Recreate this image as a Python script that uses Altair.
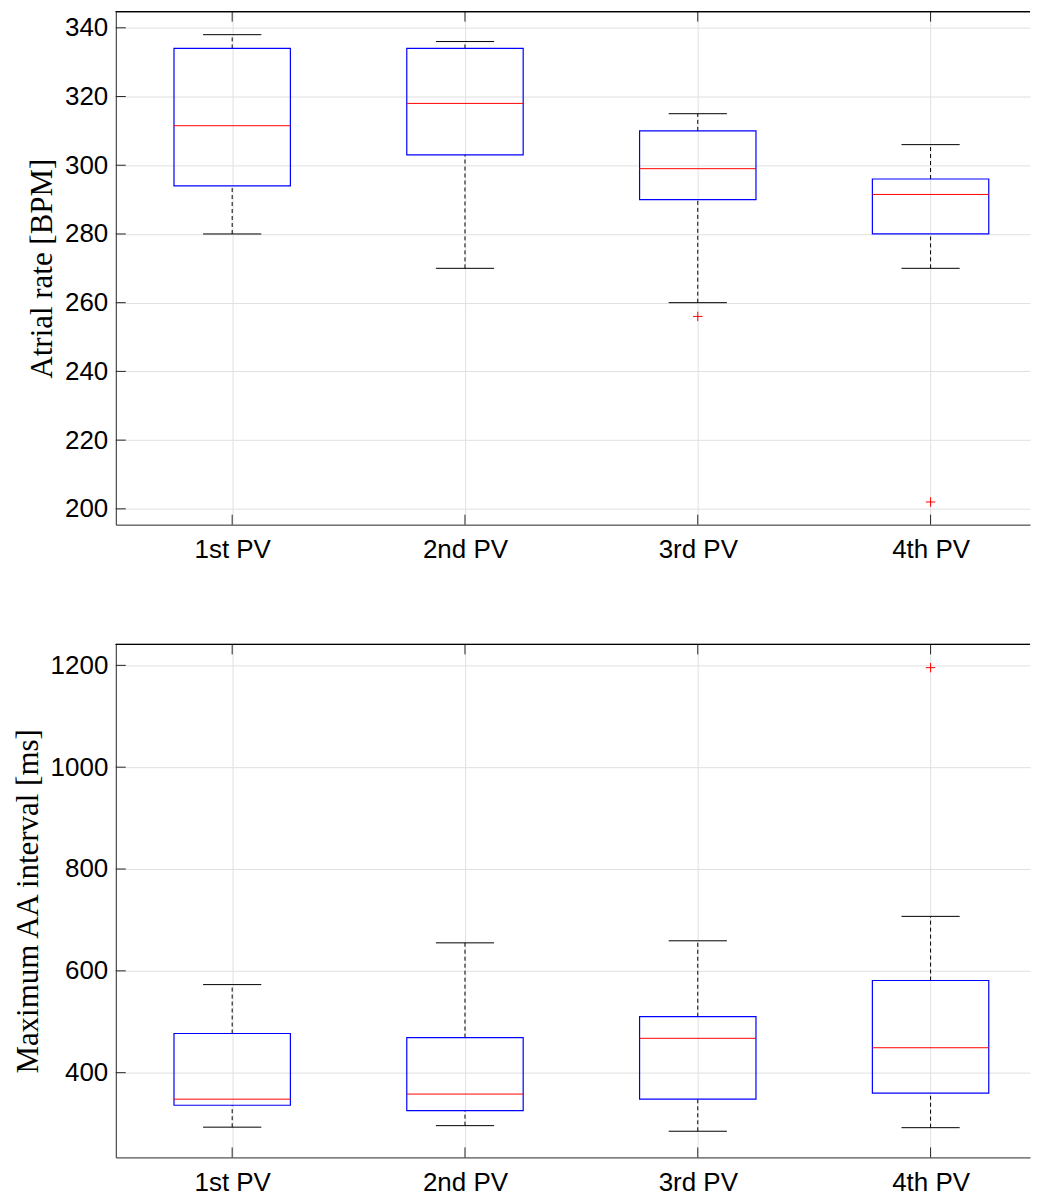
import altair as alt
import pandas as pd

categories = ["1st PV", "2nd PV", "3rd PV", "4th PV"]
positions = [1, 2, 3, 4]

rate_lower = [280, 270, 260, 270]
rate_q1 = [294, 303, 290, 280]
rate_median = [311.5, 318, 299, 291.5]
rate_q3 = [334, 334, 310, 296]
rate_upper = [338, 336, 315, 306]
rate_out_pos = [3, 4]
rate_out_val = [256, 202]
rate_ticks = [200, 220, 240, 260, 280, 300, 320, 340]
rate_domain = [195.4, 344.7]

aa_lower = [293, 296, 285, 292]
aa_q1 = [336, 325.5, 348, 360]
aa_median = [348, 358, 467.5, 449]
aa_q3 = [477, 469, 510, 581]
aa_upper = [573, 655, 659, 707]
aa_out_pos = [4]
aa_out_val = [1195.5]
aa_ticks = [400, 600, 800, 1000, 1200]
aa_domain = [233.6, 1241.1]

STEP = 233.25           # pixels per category
W = 916                 # visible plot width (right part is cut off, as in the original)
H = 514
X_DOMAIN = [0.5, 0.5 + W / STEP]
BOX_HALF = 0.25
CAP_HALF = 0.125
TICK_LEN = 10
AXC = "#262626"
PLUS = "M-1,0L1,0M0,-1L0,1"

label_expr = "[" + ",".join("'%s'" % c for c in categories) + "][datum.value - 1]"


def panel(lower, q1, med, q3, upper, out_pos, out_val, ticks, domain, title):
    df = pd.DataFrame(dict(pos=positions, lower=lower, q1=q1, med=med, q3=q3, upper=upper))
    odf = pd.DataFrame(dict(pos=out_pos, val=out_val))
    tdf = pd.DataFrame(dict(t=ticks))
    cdf = pd.DataFrame(dict(pos=positions))

    xscale = alt.Scale(domain=X_DOMAIN, nice=False, zero=False)
    yscale = alt.Scale(domain=domain, nice=False, zero=False)
    xaxis = alt.Axis(title=None, values=positions, labelExpr=label_expr, grid=True,
                     ticks=False, tickSize=0, labelPadding=12, labelAngle=0)
    yaxis = alt.Axis(title=title, values=ticks, format="d", grid=True, ticks=False, tickSize=0,
                     labelPadding=8, titlePadding=6)

    def X(f):
        return alt.X(f + ":Q", scale=xscale, axis=xaxis)

    def Y(f):
        return alt.Y(f + ":Q", scale=yscale, axis=yaxis)

    base = alt.Chart(df).transform_calculate(
        bx0="datum.pos - %f" % BOX_HALF, bx1="datum.pos + %f" % BOX_HALF,
        cx0="datum.pos - %f" % CAP_HALF, cx1="datum.pos + %f" % CAP_HALF)

    wh_up = base.mark_rule(color="black", strokeWidth=1, strokeDash=[4, 3]).encode(
        x=X("pos"), y=Y("q3"), y2="upper:Q")
    wh_lo = base.mark_rule(color="black", strokeWidth=1, strokeDash=[4, 3]).encode(
        x=X("pos"), y=Y("lower"), y2="q1:Q")
    cap_up = base.mark_rule(color="black", strokeWidth=1).encode(
        x=X("cx0"), x2="cx1:Q", y=Y("upper"))
    cap_lo = base.mark_rule(color="black", strokeWidth=1).encode(
        x=X("cx0"), x2="cx1:Q", y=Y("lower"))
    box = base.mark_rect(fillOpacity=0, stroke="#0000ff", strokeWidth=1.2).encode(
        x=X("bx0"), x2="bx1:Q", y=Y("q1"), y2="q3:Q")
    medl = base.mark_rule(color="#ff0000", strokeWidth=1).encode(
        x=X("bx0"), x2="bx1:Q", y=Y("med"))
    outl = alt.Chart(odf).mark_point(shape=PLUS, size=90, filled=False, color="#ff0000",
                                     strokeWidth=1, opacity=1).encode(x=X("pos"), y=Y("val"))
    ytk = alt.Chart(tdf).mark_rule(color=AXC, strokeWidth=1).encode(
        y=Y("t"), x=alt.value(0), x2=alt.value(TICK_LEN))
    xtk_top = alt.Chart(cdf).mark_rule(color=AXC, strokeWidth=1).encode(
        x=X("pos"), y=alt.value(0), y2=alt.value(TICK_LEN))
    xtk_bot = alt.Chart(cdf).mark_rule(color=AXC, strokeWidth=1).encode(
        x=X("pos"), y=alt.value(H), y2=alt.value(H - TICK_LEN))
    border = alt.Chart(cdf).mark_rule(color="black", strokeWidth=1).encode(
        x=alt.value(0), x2=alt.value(W), y=alt.value(0))

    return alt.layer(wh_up, wh_lo, cap_up, cap_lo, box, medl, outl, ytk, xtk_top, xtk_bot,
                     border).properties(width=W, height=H)


top = panel(rate_lower, rate_q1, rate_median, rate_q3, rate_upper, rate_out_pos, rate_out_val,
            rate_ticks, rate_domain, "Atrial rate [BPM]")
bottom = panel(aa_lower, aa_q1, aa_median, aa_q3, aa_upper, aa_out_pos, aa_out_val,
               aa_ticks, aa_domain, "Maximum AA interval [ms]")

chart = alt.vconcat(top, bottom, spacing=120, bounds="flush").configure(
    padding={"left": 4, "top": 1.5, "right": 0, "bottom": 0},
    background="white",
).configure_view(
    stroke=None
).configure_axis(
    labelFont="Liberation Sans", labelFontSize=26, labelColor="black",
    titleFont="Liberation Serif", titleFontSize=31, titleFontWeight="normal", titleColor="black",
    gridColor="#e0e0e0", gridWidth=1, domainColor=AXC, domainWidth=1,
)

chart.save("out.html", embed_options={"renderer": "svg", "actions": False})
